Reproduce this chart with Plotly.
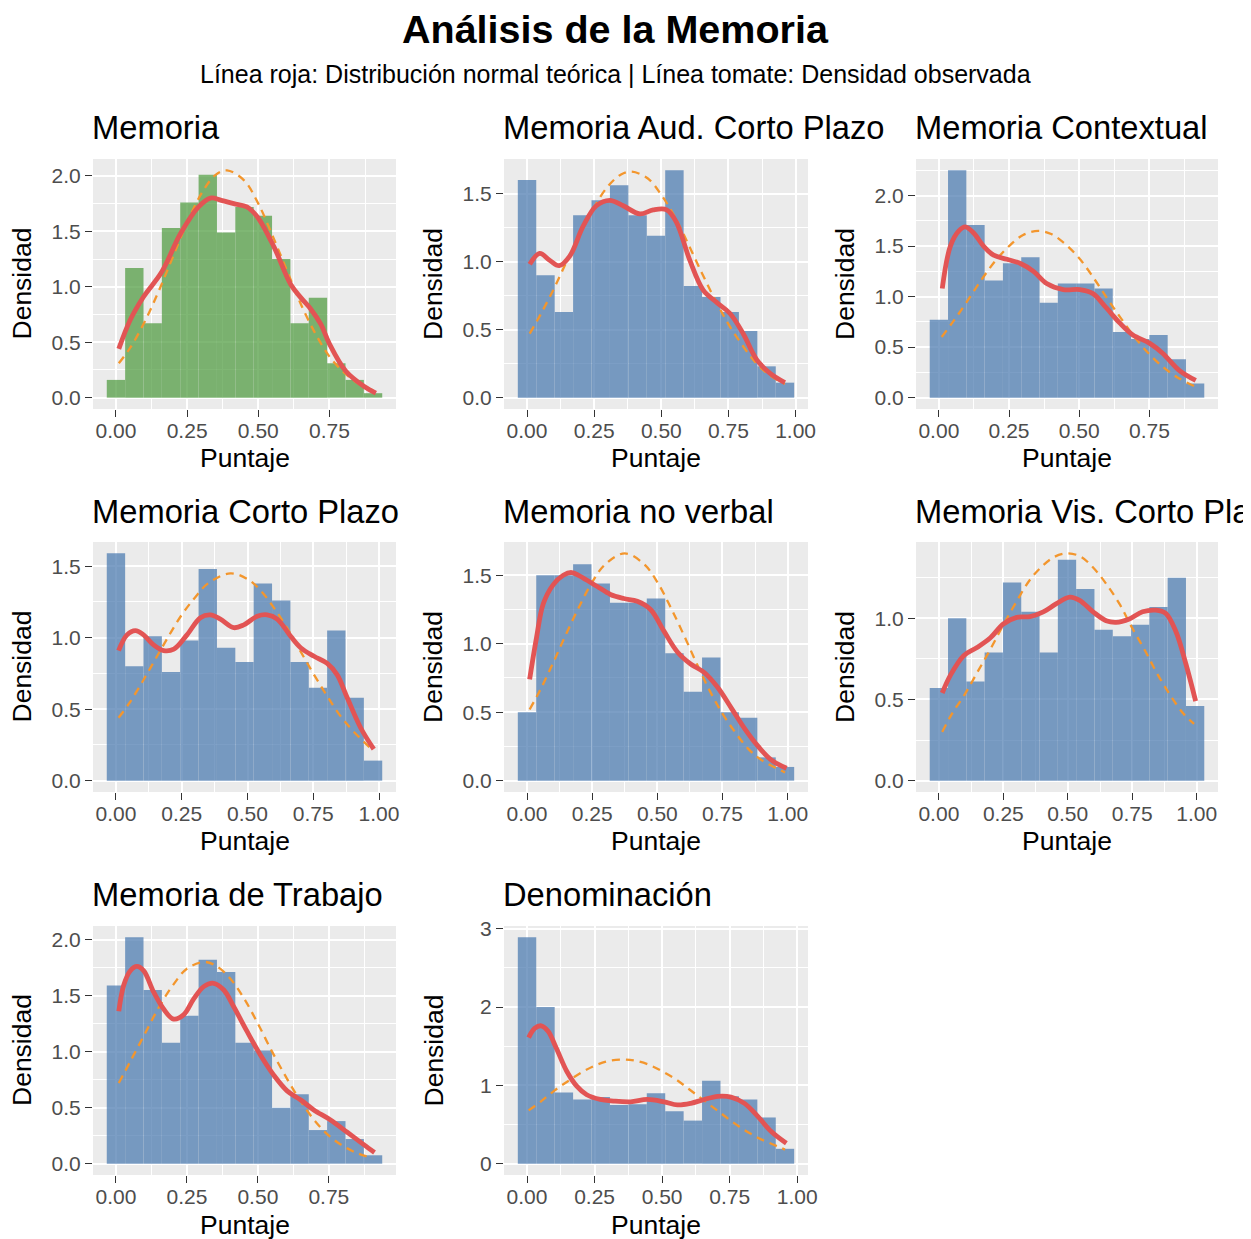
import plotly.graph_objects as go

W, H = 1251, 1239
OFF = 8  # page body margin of the browser
FW, FH = W - OFF, H - OFF
FONT = "Liberation Sans, Arial, sans-serif"

main_title = "Análisis de la Memoria"
subtitle = "Línea roja: Distribución normal teórica | Línea tomate: Densidad observada"
x_label = "Puntaje"
y_label = "Densidad"

panel_titles = [
    "Memoria", "Memoria Aud. Corto Plazo", "Memoria Contextual",
    "Memoria Corto Plazo", "Memoria no verbal", "Memoria Vis. Corto Plazo",
    "Memoria de Trabajo", "Denominación",
]

# histogram bin widths (first bin centred on 0)
bin_widths = [0.0645, 0.0686, 0.0652, 0.0698, 0.0707, 0.0710, 0.0647, 0.0682]

# histogram densities (15 bins each)
bar_heights = [
    [0.16, 1.17, 0.67, 1.53, 1.76, 2.01, 1.49, 1.72, 1.64, 1.25, 0.67, 0.90, 0.31, 0.16, 0.04],
    [1.60, 0.90, 0.63, 1.34, 1.45, 1.56, 1.34, 1.19, 1.67, 0.82, 0.74, 0.63, 0.49, 0.23, 0.11],
    [0.77, 2.25, 1.71, 1.16, 1.33, 1.39, 0.94, 1.13, 1.13, 1.08, 0.65, 0.58, 0.62, 0.38, 0.14],
    [1.59, 0.80, 1.01, 0.76, 0.98, 1.48, 0.93, 0.83, 1.38, 1.26, 0.83, 0.65, 1.05, 0.58, 0.14],
    [0.50, 1.50, 1.50, 1.58, 1.44, 1.30, 1.30, 1.33, 0.93, 0.65, 0.90, 0.50, 0.46, 0.17, 0.10],
    [0.57, 1.00, 0.61, 0.79, 1.22, 1.04, 0.79, 1.36, 1.18, 0.93, 0.89, 0.96, 1.07, 1.25, 0.46],
    [1.59, 2.02, 1.55, 1.08, 1.32, 1.82, 1.71, 1.08, 1.01, 0.50, 0.62, 0.30, 0.38, 0.22, 0.075],
    [2.89, 2.00, 0.91, 0.82, 0.85, 0.75, 0.76, 0.90, 0.67, 0.55, 1.06, 0.86, 0.82, 0.59, 0.19],
]

# observed kernel density (red)
dens_x = [
    [0.01, 0.05, 0.097, 0.16, 0.227, 0.29, 0.332, 0.37, 0.414, 0.46, 0.497, 0.555, 0.614, 0.65, 0.684, 0.72, 0.749, 0.807, 0.872, 0.913],
    [0.01, 0.047, 0.084, 0.12, 0.159, 0.209, 0.258, 0.308, 0.358, 0.42, 0.47, 0.52, 0.556, 0.606, 0.656, 0.706, 0.755, 0.805, 0.855, 0.904, 0.96],
    [0.012, 0.041, 0.071, 0.094, 0.124, 0.159, 0.195, 0.242, 0.289, 0.337, 0.384, 0.443, 0.502, 0.549, 0.596, 0.644, 0.691, 0.75, 0.797, 0.856, 0.915],
    [0.01, 0.042, 0.074, 0.105, 0.143, 0.181, 0.22, 0.27, 0.321, 0.359, 0.397, 0.448, 0.486, 0.537, 0.575, 0.613, 0.664, 0.702, 0.753, 0.803, 0.841, 0.879, 0.93, 0.98],
    [0.01, 0.036, 0.062, 0.1, 0.139, 0.171, 0.216, 0.268, 0.32, 0.371, 0.423, 0.474, 0.526, 0.577, 0.629, 0.68, 0.732, 0.784, 0.835, 0.887, 0.938, 0.996],
    [0.013, 0.045, 0.096, 0.148, 0.2, 0.25, 0.302, 0.353, 0.405, 0.456, 0.508, 0.546, 0.598, 0.649, 0.688, 0.739, 0.79, 0.842, 0.88, 0.919, 0.958, 0.996],
    [0.01, 0.027, 0.05, 0.074, 0.098, 0.133, 0.168, 0.203, 0.239, 0.274, 0.309, 0.344, 0.38, 0.415, 0.462, 0.509, 0.556, 0.603, 0.65, 0.697, 0.756, 0.815, 0.873, 0.911],
    [0.006, 0.029, 0.053, 0.078, 0.109, 0.147, 0.184, 0.221, 0.271, 0.32, 0.383, 0.445, 0.507, 0.557, 0.606, 0.656, 0.706, 0.755, 0.805, 0.855, 0.904, 0.96],
]
dens_y = [
    [0.44, 0.70, 0.91, 1.13, 1.48, 1.72, 1.80, 1.78, 1.75, 1.72, 1.63, 1.36, 1.02, 0.90, 0.80, 0.66, 0.49, 0.24, 0.10, 0.04],
    [0.98, 1.06, 1.01, 0.97, 1.04, 1.26, 1.41, 1.45, 1.41, 1.35, 1.38, 1.38, 1.29, 1.01, 0.79, 0.70, 0.62, 0.47, 0.28, 0.18, 0.11],
    [1.08, 1.50, 1.65, 1.69, 1.63, 1.50, 1.41, 1.37, 1.33, 1.25, 1.13, 1.07, 1.07, 1.03, 0.89, 0.74, 0.62, 0.54, 0.44, 0.27, 0.17],
    [0.91, 1.02, 1.05, 1.02, 0.95, 0.91, 0.92, 1.02, 1.14, 1.16, 1.13, 1.07, 1.09, 1.15, 1.16, 1.13, 1.01, 0.93, 0.87, 0.82, 0.74, 0.58, 0.37, 0.22],
    [0.74, 1.04, 1.29, 1.43, 1.50, 1.52, 1.48, 1.42, 1.36, 1.33, 1.31, 1.25, 1.09, 0.94, 0.85, 0.79, 0.68, 0.53, 0.38, 0.25, 0.15, 0.09],
    [0.54, 0.65, 0.77, 0.82, 0.88, 0.965, 1.006, 1.01, 1.04, 1.09, 1.13, 1.11, 1.04, 0.985, 0.975, 0.996, 1.04, 1.05, 1.03, 0.92, 0.72, 0.49],
    [1.36, 1.59, 1.72, 1.76, 1.72, 1.53, 1.38, 1.29, 1.33, 1.47, 1.58, 1.61, 1.55, 1.40, 1.18, 0.97, 0.79, 0.65, 0.57, 0.48, 0.39, 0.28, 0.17, 0.10],
    [1.61, 1.73, 1.76, 1.69, 1.47, 1.18, 0.99, 0.88, 0.82, 0.80, 0.79, 0.82, 0.79, 0.75, 0.77, 0.82, 0.86, 0.85, 0.77, 0.60, 0.41, 0.26],
]

# theoretical normal curve (orange dashed)
norm_x = [
    [0.01, 0.05, 0.1, 0.15, 0.2, 0.25, 0.3, 0.35, 0.39, 0.45, 0.5, 0.55, 0.6, 0.65, 0.7, 0.75, 0.8, 0.85, 0.91],
    [0.01, 0.05, 0.1, 0.15, 0.2, 0.25, 0.3, 0.35, 0.39, 0.45, 0.5, 0.55, 0.6, 0.65, 0.7, 0.75, 0.8, 0.85, 0.9, 0.96],
    [0.01, 0.05, 0.1, 0.15, 0.2, 0.25, 0.3, 0.354, 0.4, 0.45, 0.5, 0.55, 0.6, 0.65, 0.7, 0.75, 0.8, 0.85, 0.913],
    [0.01, 0.05, 0.1, 0.15, 0.2, 0.25, 0.3, 0.35, 0.435, 0.5, 0.55, 0.6, 0.65, 0.7, 0.75, 0.8, 0.85, 0.9, 0.977],
    [0.01, 0.05, 0.1, 0.15, 0.2, 0.25, 0.3, 0.375, 0.45, 0.5, 0.55, 0.6, 0.65, 0.7, 0.75, 0.8, 0.85, 0.9, 0.99],
    [0.013, 0.05, 0.1, 0.15, 0.2, 0.25, 0.3, 0.35, 0.4, 0.45, 0.5, 0.55, 0.6, 0.65, 0.7, 0.75, 0.8, 0.85, 0.9, 0.95, 0.99],
    [0.01, 0.05, 0.1, 0.15, 0.2, 0.25, 0.31, 0.35, 0.4, 0.45, 0.5, 0.55, 0.6, 0.65, 0.7, 0.75, 0.8, 0.85, 0.905],
    [0.006, 0.05, 0.1, 0.15, 0.2, 0.25, 0.3, 0.355, 0.4, 0.45, 0.5, 0.55, 0.6, 0.65, 0.7, 0.75, 0.8, 0.85, 0.9, 0.955],
]
norm_y = [
    [0.31, 0.45, 0.68, 0.96, 1.27, 1.58, 1.84, 2.01, 2.05, 1.96, 1.75, 1.46, 1.15, 0.84, 0.58, 0.37, 0.23, 0.13, 0.06],
    [0.47, 0.61, 0.80, 1.01, 1.21, 1.40, 1.55, 1.64, 1.66, 1.61, 1.49, 1.33, 1.13, 0.92, 0.72, 0.54, 0.39, 0.26, 0.17, 0.10],
    [0.60, 0.75, 0.95, 1.16, 1.35, 1.50, 1.61, 1.65, 1.62, 1.52, 1.38, 1.19, 0.98, 0.78, 0.59, 0.43, 0.30, 0.20, 0.11],
    [0.44, 0.54, 0.69, 0.85, 1.01, 1.16, 1.28, 1.38, 1.45, 1.41, 1.33, 1.21, 1.07, 0.91, 0.75, 0.60, 0.46, 0.35, 0.21],
    [0.52, 0.66, 0.86, 1.07, 1.27, 1.45, 1.58, 1.66, 1.58, 1.45, 1.27, 1.07, 0.86, 0.66, 0.49, 0.35, 0.23, 0.15, 0.06],
    [0.30, 0.41, 0.53, 0.67, 0.81, 0.96, 1.10, 1.23, 1.32, 1.38, 1.40, 1.38, 1.31, 1.21, 1.09, 0.94, 0.80, 0.65, 0.52, 0.41, 0.35],
    [0.72, 0.91, 1.15, 1.39, 1.59, 1.74, 1.80, 1.77, 1.66, 1.48, 1.25, 1.00, 0.77, 0.56, 0.385, 0.25, 0.158, 0.094, 0.05],
    [0.68, 0.79, 0.93, 1.05, 1.16, 1.25, 1.31, 1.33, 1.315, 1.265, 1.18, 1.08, 0.95, 0.82, 0.69, 0.56, 0.44, 0.34, 0.26, 0.18],
]

y_dticks = [0.5, 0.5, 0.5, 0.5, 0.5, 0.5, 0.5, 1.0]
y_formats = [".1f"] * 7 + [".0f"]
bar_colors = ["rgb(79,156,64)"] + ["rgb(74,122,176)"] * 7

# layout (screen-pixel boxes of panels)
col_px = [(93, 396), (504, 808), (916, 1218)]
row_px = [(159, 409), (542, 792), (926, 1175)]
title_y = [127, 511, 894]
xlab_y = [458, 841, 1225]
ylab_x = [21.5, 433, 845]


def px(p):
    return (p - OFF) / FW


def py(p):
    return 1 - (p - OFF) / FH


fig = go.Figure()
annotations = []
layout_axes = {}

for i in range(8):
    r, c = divmod(i, 3)
    x0, x1 = col_px[c]
    y0, y1 = row_px[r]
    sfx = "" if i == 0 else str(i + 1)
    xref, yref = "x" + sfx, "y" + sfx

    w = bin_widths[i]
    h = bar_heights[i]
    centers = [k * w for k in range(len(h))]

    fig.add_trace(go.Bar(
        x=centers, y=h, width=w, marker_color=bar_colors[i],
        marker_line_width=0, opacity=0.72, xaxis=xref, yaxis=yref,
        showlegend=False, hoverinfo="skip",
    ))
    fig.add_trace(go.Scatter(
        x=norm_x[i], y=norm_y[i], mode="lines",
        line=dict(color="rgb(243,150,45)", width=2.3, dash="8px,6px", shape="spline"),
        xaxis=xref, yaxis=yref, showlegend=False, hoverinfo="skip",
    ))
    fig.add_trace(go.Scatter(
        x=dens_x[i], y=dens_y[i], mode="lines",
        line=dict(color="rgb(226,84,84)", width=4.8, shape="spline"),
        xaxis=xref, yaxis=yref, showlegend=False, hoverinfo="skip",
    ))

    lo = -w / 2
    hi = centers[-1] + w / 2
    pad = 0.05 * (hi - lo)
    ymax = max(max(h), max(norm_y[i]), max(dens_y[i]))

    common = dict(
        ticks="outside", ticklen=7, tickwidth=1.4, tickcolor="#333333",
        tickfont=dict(size=21, color="#4D4D4D", family=FONT),
        showgrid=True, gridcolor="white", gridwidth=2.2,
        zeroline=False, showline=False, automargin=False, fixedrange=True,
    )
    layout_axes["xaxis" + sfx] = dict(
        domain=[px(x0), px(x1)], anchor=yref, range=[lo - pad, hi + pad],
        tick0=0, dtick=0.25, tickformat=".2f", ticklabelstandoff=-4,
        minor=dict(tick0=0.125, dtick=0.25, showgrid=True, gridcolor="white", gridwidth=1.1),
        **common,
    )
    dt = y_dticks[i]
    layout_axes["yaxis" + sfx] = dict(
        domain=[py(y1), py(y0)], anchor=xref,
        range=[-0.05 * ymax, 1.05 * ymax],
        tick0=0, dtick=dt, tickformat=y_formats[i],
        minor=dict(tick0=dt / 2, dtick=dt, showgrid=True, gridcolor="white", gridwidth=1.1),
        **common,
    )

    annotations.append(dict(
        text=panel_titles[i], x=px(x0 - 3), y=py(title_y[r]),
        xref="paper", yref="paper", xanchor="left", yanchor="middle",
        showarrow=False, font=dict(size=32.7, color="black", family=FONT),
    ))
    annotations.append(dict(
        text=x_label, x=px((x0 + x1) / 2), y=py(xlab_y[r]),
        xref="paper", yref="paper", xanchor="center", yanchor="middle",
        showarrow=False, font=dict(size=26.5, color="black", family=FONT),
    ))
    annotations.append(dict(
        text=y_label, x=px(ylab_x[c]), y=py((y0 + y1) / 2),
        xref="paper", yref="paper", xanchor="center", yanchor="middle",
        textangle=-90, showarrow=False,
        font=dict(size=26.5, color="black", family=FONT),
    ))

annotations.append(dict(
    text="<b>" + main_title + "</b>", x=px(615), y=py(29),
    xref="paper", yref="paper", xanchor="center", yanchor="middle",
    showarrow=False, font=dict(size=39.5, color="black", family=FONT),
))
annotations.append(dict(
    text=subtitle, x=px(615), y=py(74),
    xref="paper", yref="paper", xanchor="center", yanchor="middle",
    showarrow=False, font=dict(size=25, color="black", family=FONT),
))

fig.update_layout(
    width=FW, height=FH,
    margin=dict(l=0, r=0, t=0, b=0, pad=0),
    paper_bgcolor="white", plot_bgcolor="#EBEBEB",
    font=dict(family=FONT, color="black"),
    annotations=annotations,
    showlegend=False,
    **layout_axes,
)

fig.write_html("out.html")
